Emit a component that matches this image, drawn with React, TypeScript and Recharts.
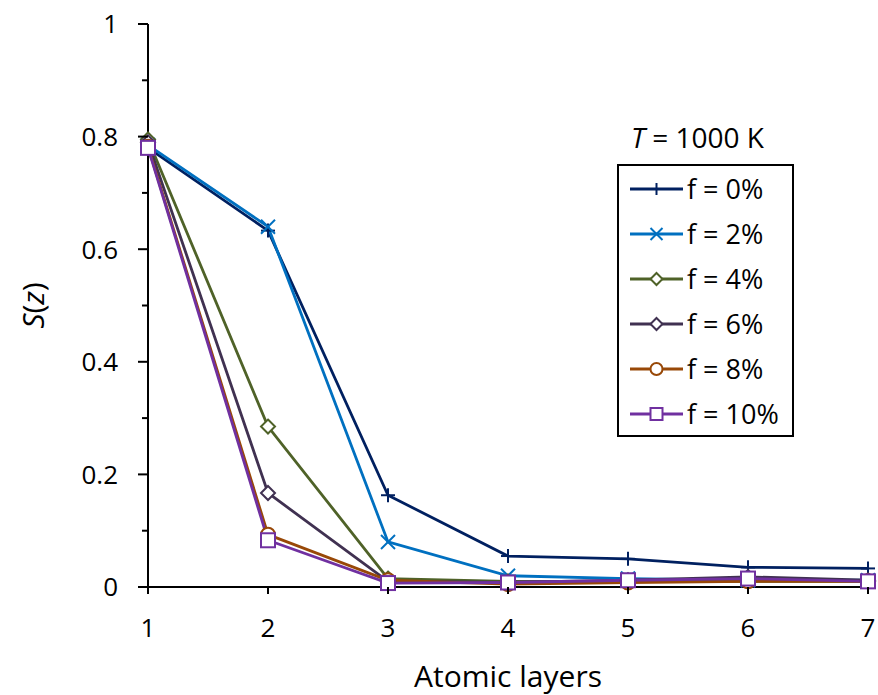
import { LineChart, Line, XAxis, YAxis, Legend } from "recharts";

const LAYERS = [1, 2, 3, 4, 5, 6, 7];
const Y_TICKS = [0, 0.1, 0.2, 0.3, 0.4, 0.5, 0.6, 0.7, 0.8, 0.9, 1];

const F0 = [0.78, 0.633, 0.163, 0.055, 0.05, 0.035, 0.033];
const F2 = [0.785, 0.64, 0.08, 0.02, 0.015, 0.012, 0.012];
const F4 = [0.795, 0.285, 0.015, 0.01, 0.01, 0.01, 0.01];
const F6 = [0.79, 0.167, 0.01, 0.008, 0.012, 0.018, 0.012];
const F8 = [0.782, 0.093, 0.012, 0.005, 0.008, 0.01, 0.01];
const F10 = [0.78, 0.083, 0.007, 0.008, 0.012, 0.015, 0.01];

type Marker = "plus" | "cross" | "diamond" | "circle" | "square";

const SERIES: { key: string; name: string; color: string; marker: Marker }[] = [
    { key: "f0", name: "f = 0%", color: "#002060", marker: "plus" },
    { key: "f2", name: "f = 2%", color: "#0070C0", marker: "cross" },
    { key: "f4", name: "f = 4%", color: "#4F6228", marker: "diamond" },
    { key: "f6", name: "f = 6%", color: "#403151", marker: "diamond" },
    { key: "f8", name: "f = 8%", color: "#984807", marker: "circle" },
    { key: "f10", name: "f = 10%", color: "#7030A0", marker: "square" },
];

const data = LAYERS.map((x, i) => ({
    x,
    f0: F0[i],
    f2: F2[i],
    f4: F4[i],
    f6: F6[i],
    f8: F8[i],
    f10: F10[i],
}));

const FONT = "'Open Sans', sans-serif";

function MarkerShape({ cx, cy, marker, color, s = 7 }: { cx: number; cy: number; marker: Marker; color: string; s?: number }) {
    const common = { stroke: color, strokeWidth: 2 };
    if (marker === "plus")
        return (
            <g {...common}>
                <line x1={cx - s} y1={cy} x2={cx + s} y2={cy} />
                <line x1={cx} y1={cy - s} x2={cx} y2={cy + s} />
            </g>
        );
    if (marker === "cross")
        return (
            <g {...common}>
                <line x1={cx - s} y1={cy - s} x2={cx + s} y2={cy + s} />
                <line x1={cx - s} y1={cy + s} x2={cx + s} y2={cy - s} />
            </g>
        );
    if (marker === "diamond")
        return (
            <polygon
                points={`${cx},${cy - s} ${cx + s},${cy} ${cx},${cy + s} ${cx - s},${cy}`}
                fill="#fff"
                {...common}
            />
        );
    if (marker === "circle") return <circle cx={cx} cy={cy} r={s} fill="#fff" {...common} />;
    return <rect x={cx - s} y={cy - s} width={2 * s} height={2 * s} fill="#fff" {...common} />;
}

function YTick({ x, y, payload }: any) {
    const v = payload.value;
    const major = Math.round(v * 10) % 2 === 0;
    return (
        <g>
            <line x1={x - (major ? 10 : 6)} y1={y} x2={x} y2={y} stroke="#000" strokeWidth={2} />
            {major && (
                <text x={x - 30} y={y} dy="0.36em" textAnchor="end" fontSize={26} fontFamily={FONT} fill="#000">
                    {String(Math.round(v * 10) / 10)}
                </text>
            )}
        </g>
    );
}

function XTick({ x, y, payload }: any) {
    return (
        <g>
            <line x1={x} y1={y} x2={x} y2={y + 7} stroke="#000" strokeWidth={2} />
            <text x={x} y={y + 50} textAnchor="middle" fontSize={26} fontFamily={FONT} fill="#000">
                {payload.value}
            </text>
        </g>
    );
}

function LegendBox() {
    return (
        <div style={{ fontFamily: FONT, color: "#000" }}>
            <div style={{ fontSize: 28, height: 46, lineHeight: "38px", paddingLeft: 14, whiteSpace: "nowrap" }}>
                <i>T</i> = 1000 K
            </div>
            <div style={{ border: "2px solid #000", width: 177, height: 273, boxSizing: "border-box", paddingTop: 0 }}>
                {SERIES.map((s) => (
                    <div key={s.key} style={{ display: "flex", alignItems: "center", height: 45 }}>
                        <svg width={70} height={30} style={{ flex: "none" }}>
                            <line x1={11} y1={15} x2={64} y2={15} stroke={s.color} strokeWidth={2.8} />
                            <MarkerShape cx={37.5} cy={15} marker={s.marker} color={s.color} s={6} />
                        </svg>
                        <span style={{ fontSize: 27, whiteSpace: "nowrap", marginLeft: -2 }}>{s.name}</span>
                    </div>
                ))}
            </div>
        </div>
    );
}

export default function App() {
    return (
        <div style={{ position: "absolute", left: 0, top: 0, background: "#fff" }}>
            <LineChart width={878} height={695} data={data} margin={{ top: 24, right: 10, left: 0, bottom: 0 }}>
                <XAxis
                    dataKey="x"
                    type="number"
                    domain={[1, 7]}
                    ticks={LAYERS}
                    height={108}
                    tickSize={0}
                    tickMargin={0}
                    tickLine={false}
                    axisLine={{ stroke: "#000", strokeWidth: 2 }}
                    tick={<XTick />}
                    interval={0}
                    label={{
                        content: ({ viewBox }: any) => (
                            <text
                                x={viewBox.x + viewBox.width / 2}
                                y={viewBox.y + 100}
                                textAnchor="middle"
                                fontSize={30}
                                fontFamily={FONT}
                                fill="#000"
                            >
                                Atomic layers
                            </text>
                        ),
                    }}
                />
                <XAxis
                    xAxisId="top"
                    orientation="top"
                    type="number"
                    domain={[1, 7]}
                    height={0}
                    tick={false}
                    tickLine={false}
                    axisLine={{ stroke: "#000", strokeWidth: 2 }}
                />
                <YAxis
                    type="number"
                    domain={[0, 1]}
                    ticks={Y_TICKS}
                    width={148}
                    tickSize={0}
                    tickMargin={0}
                    tickLine={false}
                    axisLine={{ stroke: "#000", strokeWidth: 2 }}
                    tick={<YTick />}
                    interval={0}
                    label={{
                        content: ({ viewBox }: any) => {
                            const cx = 33;
                            const cy = viewBox.y + viewBox.height / 2;
                            return (
                                <text
                                    x={cx}
                                    y={cy}
                                    transform={`rotate(-90 ${cx} ${cy})`}
                                    textAnchor="middle"
                                    dy="0.35em"
                                    fontSize={30}
                                    fontFamily={FONT}
                                    fill="#000"
                                >
                                    <tspan fontStyle="italic">S</tspan>(<tspan fontStyle="italic">z</tspan>)
                                </text>
                            );
                        },
                    }}
                />
                <YAxis
                    yAxisId="right"
                    orientation="right"
                    type="number"
                    domain={[0, 1]}
                    width={0}
                    tick={false}
                    tickLine={false}
                    axisLine={{ stroke: "#000", strokeWidth: 2 }}
                />
                <Legend
                    layout="vertical"
                    align="center"
                    verticalAlign="middle"
                    wrapperStyle={{ left: 617, top: 118, width: 180 }}
                    content={() => <LegendBox />}
                />
                {SERIES.map((s) => (
                    <Line
                        key={s.key}
                        dataKey={s.key}
                        name={s.name}
                        type="linear"
                        stroke={s.color}
                        strokeWidth={2.8}
                        isAnimationActive={false}
                        dot={(p: any) => (
                            <MarkerShape key={`${s.key}-${p.index}`} cx={p.cx} cy={p.cy} marker={s.marker} color={s.color} />
                        )}
                        activeDot={false}
                    />
                ))}
            </LineChart>
        </div>
    );
}
